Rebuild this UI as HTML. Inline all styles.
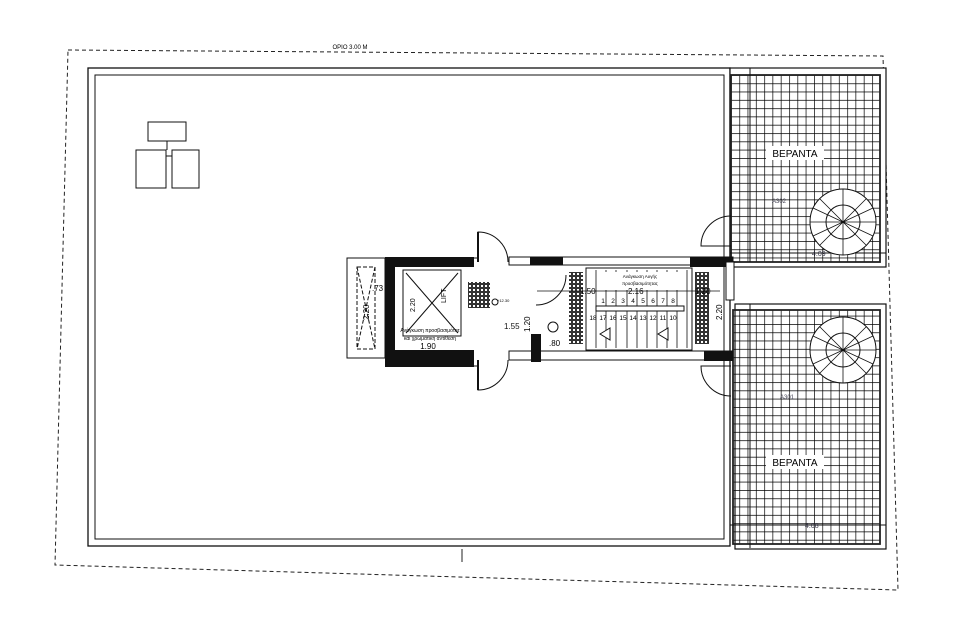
<!DOCTYPE html>
<html><head><meta charset="utf-8"><style>html,body{margin:0;padding:0;background:#fff}svg{display:block}</style></head>
<body>
<svg width="977" height="628" viewBox="0 0 977 628" xmlns="http://www.w3.org/2000/svg" font-family="Liberation Sans, sans-serif">
<defs>
<pattern id="g" x="731" y="75" width="8.3" height="8.3" patternUnits="userSpaceOnUse">
<path d="M0 0H8.3M0 0V8.3" stroke="#000" stroke-width="1.4" fill="none"/>
</pattern>
<pattern id="h" x="0" y="0" width="4" height="4" patternUnits="userSpaceOnUse">
<rect width="4" height="4" fill="#333"/><rect x="1" y="1" width="2" height="2" fill="#fff"/>
</pattern>
</defs>
<rect width="977" height="628" fill="#fff"/>
<path d="M68 50 L883 56 L898 590 L55 565 Z" fill="none" stroke="#222" stroke-width="1" stroke-dasharray="4,3"/>
<text x="350" y="49" font-size="6" text-anchor="middle">OPIO 3.00 M</text>
<line x1="462" y1="549" x2="462" y2="562" stroke="#222"/>
<rect x="88" y="68" width="642" height="478" fill="none" stroke="#111" stroke-width="1.3"/>
<rect x="95" y="75" width="629" height="464" fill="none" stroke="#111" stroke-width="1"/>
<rect x="148" y="122" width="38" height="19" fill="none" stroke="#111"/>
<rect x="136" y="150" width="30" height="38" fill="none" stroke="#111"/>
<rect x="172" y="150" width="27" height="38" fill="none" stroke="#111"/>
<path d="M167 141V150M166 156H172" stroke="#111" fill="none"/>
<rect x="730" y="68" width="156" height="199" fill="#fff" stroke="#111" stroke-width="1.2"/>
<rect x="731" y="75" width="149" height="187" fill="url(#g)" stroke="#222" stroke-width="1.8"/>
<rect x="735" y="304" width="151" height="245" fill="#fff" stroke="#111" stroke-width="1.2"/>
<rect x="733" y="310" width="147" height="234" fill="url(#g)" stroke="#222" stroke-width="1.8"/>
<rect x="766" y="146" width="58" height="14" fill="#fff"/>
<text x="795" y="157" font-size="10" text-anchor="middle">ΒΕΡΑΝΤΑ</text>
<rect x="766" y="455" width="58" height="14" fill="#fff"/>
<text x="795" y="466" font-size="10" text-anchor="middle">ΒΕΡΑΝΤΑ</text>
<line x1="750" y1="68" x2="750" y2="262" stroke="#111"/>
<line x1="750" y1="304" x2="750" y2="548" stroke="#111"/>
<line x1="730" y1="253" x2="886" y2="253" stroke="#111"/>
<line x1="730" y1="525" x2="886" y2="525" stroke="#111"/>
<text x="812" y="256" font-size="7" fill="#334">4.09</text>
<text x="805" y="528" font-size="7" fill="#334">4.08</text>
<text x="772" y="203" font-size="6" fill="#445">A302</text>
<text x="780" y="399" font-size="6" fill="#445">A301</text>
<g stroke="#111" fill="#fff">
<circle cx="843" cy="222" r="33"/><circle cx="843" cy="222" r="17" fill="none"/>
<circle cx="843" cy="350" r="33"/><circle cx="843" cy="350" r="17" fill="none"/>
</g>
<g stroke="#111" stroke-width="0.8">
<path d="M843 222L843 189M843 222L866 199M843 222L876 222M843 222L866 245M843 222L843 255M843 222L820 245M843 222L810 222M843 222L820 199M843 222L873 208M843 222L873 236M843 222L813 208M843 222L813 236"/>
<path d="M843 350L843 317M843 350L866 327M843 350L876 350M843 350L866 373M843 350L843 383M843 350L820 373M843 350L810 350M843 350L820 327M843 350L873 336M843 350L873 364M843 350L813 336M843 350L813 364"/>
</g>
<rect x="347" y="258" width="38" height="100" fill="#fff" stroke="#111"/>
<rect x="357" y="267" width="18" height="82" fill="none" stroke="#111" stroke-dasharray="4,2"/>
<path d="M357 267L375 349M375 267L357 349" stroke="#111" stroke-dasharray="4,2"/>
<rect x="385" y="257" width="89" height="110" fill="#111"/>
<rect x="395" y="267" width="68" height="83" fill="#fff"/>
<rect x="403" y="270" width="58" height="66" fill="none" stroke="#111"/>
<path d="M406 273L458 333M458 273L406 333" stroke="#111"/>
<text x="446" y="303" font-size="7" transform="rotate(-90 446 303)">LIFT</text>
<text x="415" y="312" font-size="7" transform="rotate(-90 415 312)">2.20</text>
<text x="430" y="332" font-size="5" text-anchor="middle">Ανάγκωση προσβασιμότητ</text>
<text x="430" y="340" font-size="5" text-anchor="middle">και χρωματική αντίθεση</text>
<text x="428" y="349" font-size="8" text-anchor="middle">1.90</text>
<text x="372" y="291" font-size="8">.73</text>
<text x="369" y="320" font-size="8" transform="rotate(-90 369 320)">2.20</text>
<rect x="463" y="267" width="11" height="83" fill="#fff"/>
<rect x="468" y="282" width="22" height="26" fill="url(#h)"/>
<path d="M474 258H478V232 A30 30 0 0 1 508 262" fill="none" stroke="#111"/>
<path d="M474 366H478V390 A30 30 0 0 0 508 360" fill="none" stroke="#111"/>
<line x1="478" y1="232" x2="478" y2="262" stroke="#111" stroke-width="2"/>
<line x1="478" y1="360" x2="478" y2="390" stroke="#111" stroke-width="2"/>
<rect x="509" y="257" width="224" height="8" fill="#fff" stroke="#111"/>
<rect x="530" y="257" width="33" height="8" fill="#111"/>
<rect x="690" y="257" width="43" height="10" fill="#111"/>
<rect x="509" y="351" width="224" height="9" fill="#fff" stroke="#111"/>
<rect x="531" y="334" width="10" height="28" fill="#111"/>
<rect x="704" y="351" width="29" height="10" fill="#111"/>
<path d="M536 305 A30 30 0 0 0 566 275" fill="none" stroke="#111"/>
<text x="504" y="329" font-size="8" fill="#111">1.55</text>
<text x="530" y="332" font-size="8" transform="rotate(-90 530 332)">1.20</text>
<text x="549" y="346" font-size="8">.80</text>
<circle cx="553" cy="327" r="5" fill="none" stroke="#111"/>
<text x="497" y="302" font-size="4">+12.30</text>
<circle cx="495" cy="302" r="3" fill="none" stroke="#111"/>
<rect x="569" y="272" width="14" height="72" fill="url(#h)"/>
<rect x="695" y="272" width="14" height="72" fill="url(#h)"/>
<rect x="586" y="268" width="106" height="82" fill="none" stroke="#111"/>
<g stroke="#111" stroke-width="0.8">
<path d="M596 270V348M606 270V348M616 270V348M627 270V348M637 270V348M647 270V348M657 270V348M667 270V348M677 270V348M687 270V348"/>
</g>
<rect x="596" y="306" width="88" height="5" fill="#fff" stroke="#111"/>
<rect x="598" y="272" width="80" height="18" fill="#fff"/>
<text x="640" y="278" font-size="4.5" text-anchor="middle">Ανάγκωση Αυγής</text>
<text x="640" y="285" font-size="4.5" text-anchor="middle">προσβασιμότητας</text>
<text x="580" y="294" font-size="8">1.50</text>
<text x="628" y="294" font-size="8">2.16</text>
<text x="695" y="294" font-size="8">1.20</text>
<line x1="537" y1="291" x2="720" y2="291" stroke="#111" stroke-width="0.8"/>
<g font-size="6.5" text-anchor="middle">
<text x="603" y="303">1</text><text x="613" y="303">2</text><text x="623" y="303">3</text><text x="633" y="303">4</text><text x="643" y="303">5</text><text x="653" y="303">6</text><text x="663" y="303">7</text><text x="673" y="303">8</text>
<text x="593" y="320">18</text><text x="603" y="320">17</text><text x="613" y="320">16</text><text x="623" y="320">15</text><text x="633" y="320">14</text><text x="643" y="320">13</text><text x="653" y="320">12</text><text x="663" y="320">11</text><text x="673" y="320">10</text>
</g>
<path d="M600 334L610 328V340Z M658 334L668 328V340Z" fill="#fff" stroke="#111"/>
<text x="722" y="320" font-size="8" transform="rotate(-90 722 320)">2.20</text>
<path d="M731 216 A30 30 0 0 0 701 246 H731" fill="none" stroke="#111"/>
<path d="M731 396 A30 30 0 0 1 701 366 H731" fill="none" stroke="#111"/>
<rect x="726" y="262" width="8" height="38" fill="#fff" stroke="#111"/>
</svg>
</body></html>
